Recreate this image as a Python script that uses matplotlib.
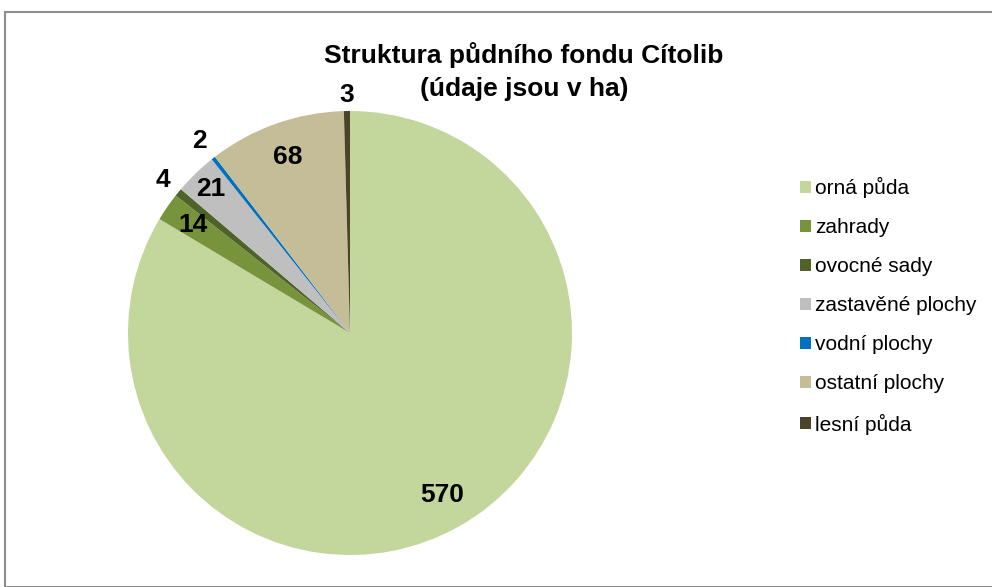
import matplotlib.pyplot as plt
import numpy as np
from matplotlib.patches import Rectangle, Patch

plt.rcParams["font.family"] = ["Liberation Sans", "DejaVu Sans"]

categories = ["orná půda", "zahrady", "ovocné sady", "zastavěné plochy",
              "vodní plochy", "ostatní plochy", "lesní půda"]
values = [570, 14, 4, 21, 2, 68, 3]
colors = ["#C3D69B", "#77933C", "#4F6228", "#BFBFBF", "#0070C0", "#C4BD97", "#4A452A"]
# how far from the centre each value label sits (in pie radii)
label_dist = [0.84, 0.86, 1.09, 0.90, 1.10, 0.84, 1.07]

W, H = 992, 587
fig = plt.figure(figsize=(W / 100, H / 100), dpi=100)

# chart frame
fig.patches.append(Rectangle((5 / W, 0), 1.0, 1 - 12 / H, transform=fig.transFigure,
                             fill=False, edgecolor="#8c8c8c", linewidth=1.5))

cx, cy, r = 350, 333, 222
ax = fig.add_axes([(cx - r) / W, (H - cy - r) / H, 2 * r / W, 2 * r / H])
wedges, _ = ax.pie(values, colors=colors, startangle=90, counterclock=False,
                   radius=1, wedgeprops=dict(linewidth=0))
ax.set_xlim(-1, 1)
ax.set_ylim(-1, 1)
ax.set_aspect("equal")
ax.axis("off")

total = sum(values)
start = 90.0
for v, dist in zip(values, label_dist):
    span = v / total * 360
    mid = np.deg2rad(start - span / 2)
    ax.text(dist * np.cos(mid), dist * np.sin(mid), str(v), ha="center", va="center",
            fontsize=19, fontweight="bold", color="black", clip_on=False)
    start -= span

fig.text(524 / W, 1 - 55 / H, "Struktura půdního fondu Cítolib",
         ha="center", va="center", fontsize=19, fontweight="bold")
fig.text(524 / W, 1 - 89 / H, "(údaje jsou v ha)",
         ha="center", va="center", fontsize=19, fontweight="bold")

handles = [Patch(facecolor=c, edgecolor="none") for c in colors]
fig.legend(handles, categories, loc="upper left", bbox_to_anchor=(790 / W, 1 - 167 / H),
           frameon=False, fontsize=15, handlelength=0.5, handleheight=0.5,
           handletextpad=0.2, labelspacing=0.96, borderpad=0)

fig.savefig("out.png", dpi=100)
